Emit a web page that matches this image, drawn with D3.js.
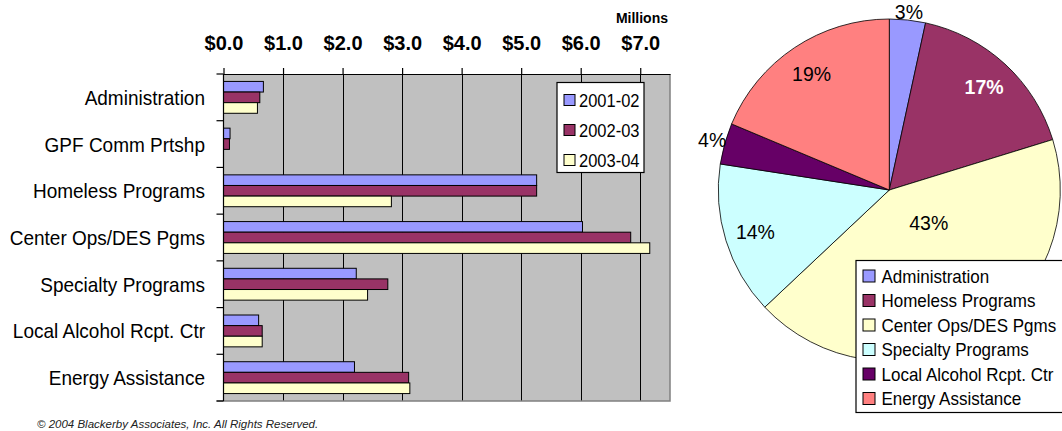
<!DOCTYPE html>
<html>
<head>
<meta charset="utf-8">
<script src="https://cdn.jsdelivr.net/npm/d3@7/dist/d3.min.js"></script>
<style>
body{margin:0;background:#fff;}
svg{display:block;font-family:"Liberation Sans",Arial,sans-serif;}
</style>
</head>
<body>
<script>
// programs, in the order of the bar chart
var categories = ["Administration", "GPF Comm Prtshp", "Homeless Programs", "Center Ops/DES Pgms",
	"Specialty Programs", "Local Alcohol Rcpt. Ctr", "Energy Assistance"];

// budget per fiscal year, $ millions
var fy0102 = [0.67, 0.11, 5.26, 6.03, 2.23, 0.59, 2.20];
var fy0203 = [0.61, 0.10, 5.26, 6.84, 2.76, 0.65, 3.11];
var fy0304 = [0.57, 0.00, 2.82, 7.16, 2.42, 0.65, 3.13];

var seriesNames = ["2001-02", "2002-03", "2003-04"];
var seriesColors = ["#9999FF", "#993366", "#FFFFCC"];
var xTicks = [0, 1, 2, 3, 4, 5, 6, 7];

// pie = 2003-04 share, programs with a budget only
var pieColors = ["#9999FF", "#993366", "#FFFFCC", "#CCFFFF", "#660066", "#FF8080"];

var W = 1062, H = 431;
var svg = d3.select('body').append('svg').attr('width', W).attr('height', H);

// the original text is a bit taller than Arial, stretch it vertically
function stretch(sel, k){
	sel.each(function(){
		var t = d3.select(this);
		var tx = +t.attr('x') || 0, ty = +t.attr('y') || 0;
		t.attr('x', 0).attr('y', 0).attr('transform', 'translate(' + tx + ',' + ty + ') scale(1,' + k + ')');
	});
}

/* ---------- bar chart ---------- */
var plot = {left: 223.5, right: 670, top: 74, bottom: 401};
var x = d3.scaleLinear().domain([0, 7.5]).range([plot.left, plot.right]);
var y = d3.scaleBand().domain(categories).range([plot.top, plot.bottom]);
var ySub = d3.scaleBand().domain(seriesNames).range([0, y.bandwidth()]).paddingOuter(0.7);
var series = [fy0102, fy0203, fy0304];

var bg = svg.append('g');
bg.append('rect').attr('x', plot.left).attr('y', plot.top)
	.attr('width', plot.right - plot.left).attr('height', plot.bottom - plot.top)
	.attr('fill', '#C0C0C0');
bg.selectAll('line.grid').data(xTicks.slice(1)).enter().append('line')
	.attr('class', 'grid')
	.attr('x1', function(d){ return Math.round(x(d)) + 0.5; })
	.attr('x2', function(d){ return Math.round(x(d)) + 0.5; })
	.attr('y1', plot.top).attr('y2', plot.bottom)
	.attr('stroke', '#000').attr('stroke-width', 1);
// right / bottom frame of the plot area
bg.append('path')
	.attr('d', 'M' + plot.right + ',' + plot.top + 'V' + plot.bottom + 'H' + (plot.left - 7))
	.attr('fill', 'none').attr('stroke', '#808080').attr('stroke-width', 1.5);

var barRows = [];
categories.forEach(function(c, i){
	seriesNames.forEach(function(s, j){
		barRows.push({cat: c, name: s, value: series[j][i], color: seriesColors[j]});
	});
});

svg.append('g').selectAll('rect').data(barRows.filter(function(d){ return d.value > 0; }))
	.enter().append('rect')
	.attr('x', x(0))
	.attr('y', function(d){ return y(d.cat) + ySub(d.name); })
	.attr('width', function(d){ return x(d.value) - x(0); })
	.attr('height', ySub.bandwidth())
	.attr('fill', function(d){ return d.color; })
	.attr('stroke', '#000').attr('stroke-width', 1);

// value axis on top
var xAxis = svg.append('g').attr('transform', 'translate(0,' + plot.top + ')')
	.call(d3.axisTop(x).tickValues(xTicks).tickSize(6).tickSizeOuter(0).tickPadding(18)
		.tickFormat(d3.format('$.1f')));
xAxis.selectAll('line,path').attr('stroke', '#000').attr('stroke-width', 1.2);
xAxis.selectAll('text').attr('font-size', 20).attr('font-weight', 'bold').attr('fill', '#000')
	.attr('font-family', '"Liberation Sans",Arial,sans-serif');

svg.append('text').attr('x', 668).attr('y', 23).attr('text-anchor', 'end')
	.attr('font-size', 14).attr('font-weight', 'bold').text('Millions');

// category axis, ticks on band edges
var edges = categories.map(function(c){ return y(c); }).concat([plot.bottom]);
svg.append('line').attr('x1', plot.left).attr('x2', plot.left)
	.attr('y1', plot.top).attr('y2', plot.bottom).attr('stroke', '#000').attr('stroke-width', 1.2);
svg.selectAll('line.ctick').data(edges).enter().append('line').attr('class', 'ctick')
	.attr('x1', plot.left - 7).attr('x2', plot.left)
	.attr('y1', function(d){ return d; }).attr('y2', function(d){ return d; })
	.attr('stroke', '#000').attr('stroke-width', 1.2);
svg.selectAll('text.cat').data(categories).enter().append('text').attr('class', 'cat')
	.attr('x', 205).attr('y', function(d){ return y(d) + y.bandwidth() / 2; })
	.attr('dy', '0.36em').attr('text-anchor', 'end').attr('font-size', 19)
	.text(function(d){ return d; })
	.call(stretch, 1.1);

// series legend
var lg = svg.append('g').attr('transform', 'translate(557,82.5)');
lg.append('rect').attr('width', 87).attr('height', 90).attr('fill', '#fff')
	.attr('stroke', '#000').attr('stroke-width', 1.2);
var lgItem = lg.selectAll('g').data(seriesNames).enter().append('g')
	.attr('transform', function(d, i){ return 'translate(7,' + (17.5 + i * 30) + ')'; });
lgItem.append('rect').attr('y', -5.5).attr('width', 11).attr('height', 11)
	.attr('fill', function(d, i){ return seriesColors[i]; }).attr('stroke', '#000');
lgItem.append('text').attr('x', 15).attr('dy', '0.36em').attr('font-size', 16.5)
	.text(function(d){ return d; })
	.call(stretch, 1.1);

/* ---------- pie ---------- */
var pieRows = [];
categories.forEach(function(c, i){
	if(fy0304[i] > 0) pieRows.push({cat: c, value: fy0304[i]});
});
pieRows.forEach(function(d, i){ d.color = pieColors[i]; });
var total = d3.sum(pieRows, function(d){ return d.value; });

var R = 171, cx = 889.3, cy = 190;
var arcs = d3.pie().sort(null).value(function(d){ return d.value; })(pieRows);
var arc = d3.arc().innerRadius(0).outerRadius(R);
var pie = svg.append('g').attr('transform', 'translate(' + cx + ',' + cy + ')');
pie.selectAll('path').data(arcs).enter().append('path')
	.attr('d', arc).attr('fill', function(d){ return d.data.color; })
	.attr('stroke', '#000').attr('stroke-width', 0.8);

function labelPos(d){
	var share = d.value / total, r;
	var a = (d.startAngle + d.endAngle) / 2;
	if(share < 0.05) r = R + 13;        // thin slices: label outside
	else if(share > 0.4){                 // big slice: pulled up, legend covers its rim
		r = R * 0.3; a -= 0.35;
	}
	else r = R * 0.82;
	// keep it inside the page at the top
	return [r * Math.sin(a), Math.max(-r * Math.cos(a), 12 - cy), r > R];
}
function darkInside(d){ return !labelPos(d)[2] && d3.hsl(d.data.color).l < 0.45; }
pie.selectAll('text').data(arcs).enter().append('text')
	.attr('x', function(d){ return labelPos(d)[0]; })
	.attr('y', function(d){ return labelPos(d)[1]; })
	.attr('dy', '0.36em').attr('text-anchor', 'middle').attr('font-size', 19.5)
	.attr('font-weight', function(d){ return darkInside(d) ? 'bold' : 'normal'; })
	.attr('fill', function(d){ return darkInside(d) ? '#fff' : '#000'; })
	.text(function(d){ return d3.format('.0%')(d.value / total); })
	.call(stretch, 1.05);

// pie legend (runs off the right edge)
var pl = svg.append('g').attr('transform', 'translate(856,260.5)');
pl.append('rect').attr('width', 230).attr('height', 152).attr('fill', '#fff')
	.attr('stroke', '#000').attr('stroke-width', 1.2);
var plItem = pl.selectAll('g').data(pieRows).enter().append('g')
	.attr('transform', function(d, i){ return 'translate(7,' + (15.5 + i * 24.5) + ')'; });
plItem.append('rect').attr('y', -6).attr('width', 12).attr('height', 12)
	.attr('fill', function(d){ return d.color; }).attr('stroke', '#000');
plItem.append('text').attr('x', 18.5).attr('dy', '0.36em').attr('font-size', 17)
	.text(function(d){ return d.cat; })
	.call(stretch, 1.1);

// footer
svg.append('text').attr('x', 37).attr('y', 428).attr('font-size', 11.5).attr('font-style', 'italic')
	.attr('fill', '#222').text('\u00a9 2004 Blackerby Associates, Inc. All Rights Reserved.');
</script>
</body>
</html>
